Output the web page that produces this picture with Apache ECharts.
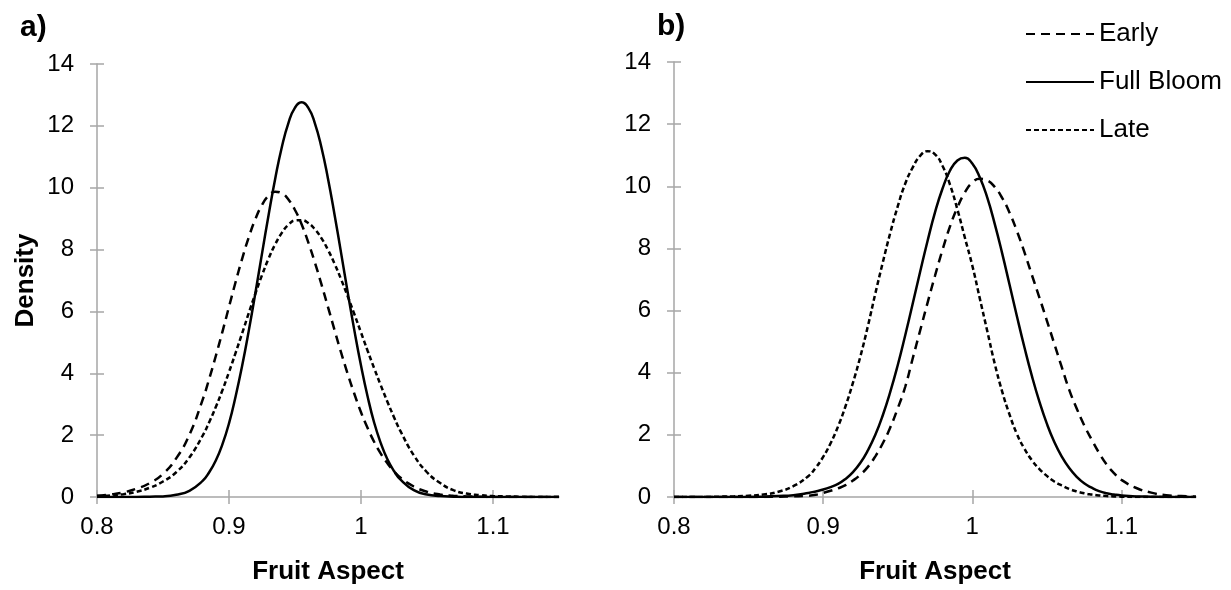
<!DOCTYPE html>
<html>
<head>
<meta charset="utf-8">
<script src="https://cdn.jsdelivr.net/npm/echarts@6/dist/echarts.min.js"></script>
<style>
html,body{margin:0;padding:0;background:#fff;}
#chart{width:1231px;height:590px;}
</style>
</head>
<body>
<div id="chart"></div>
<script>
// ---------- data ----------
const seriesNames = ['Early', 'Full Bloom', 'Late'];
const xTickValues = [0.8, 0.9, 1, 1.1];
const yTickValues = [0, 2, 4, 6, 8, 10, 12, 14];

// panel a) x positions
const xA = [0.80,0.81,0.82,0.83,0.84,0.85,0.86,0.87,0.88,0.885,0.89,0.895,0.90,0.905,0.91,0.915,0.92,0.925,0.93,0.935,0.94,0.945,0.95,0.955,0.96,0.965,0.97,0.975,0.98,0.985,0.99,0.995,1.00,1.005,1.01,1.015,1.02,1.025,1.03,1.04,1.05,1.06,1.07,1.08,1.09,1.10,1.11,1.12,1.13,1.14,1.15];
const earlyA = [0.04,0.08,0.15,0.27,0.45,0.75,1.25,2.01,3.14,3.82,4.56,5.34,6.15,6.95,7.71,8.40,8.99,9.44,9.74,9.87,9.82,9.62,9.28,8.82,8.24,7.59,6.88,6.14,5.39,4.66,3.97,3.33,2.74,2.23,1.78,1.40,1.09,0.83,0.62,0.34,0.17,0.08,0.04,0.02,0.01,0,0,0,0,0,0];
const fullBloomA = [0,0,0,0,0.01,0.02,0.07,0.20,0.52,0.80,1.18,1.70,2.38,3.25,4.25,5.38,6.60,7.87,9.12,10.29,11.31,12.09,12.59,12.76,12.59,12.09,11.31,10.29,9.12,7.87,6.60,5.38,4.25,3.25,2.40,1.74,1.22,0.84,0.56,0.22,0.08,0.03,0.01,0,0,0,0,0,0,0,0];
const lateA = [0.03,0.05,0.09,0.17,0.30,0.50,0.80,1.28,1.98,2.42,2.91,3.45,4.04,4.66,5.30,5.95,6.58,7.17,7.71,8.17,8.54,8.80,8.94,8.95,8.86,8.66,8.37,7.99,7.54,7.03,6.48,5.91,5.32,4.73,4.16,3.61,3.08,2.58,2.12,1.35,0.80,0.45,0.22,0.11,0.06,0.03,0.02,0.01,0,0,0];

// panel b) x positions
const xB = [0.80,0.81,0.82,0.83,0.84,0.85,0.86,0.87,0.88,0.89,0.895,0.90,0.905,0.91,0.915,0.92,0.925,0.93,0.935,0.94,0.945,0.95,0.955,0.96,0.965,0.97,0.975,0.98,0.985,0.99,0.995,1.00,1.005,1.01,1.015,1.02,1.025,1.03,1.035,1.04,1.045,1.05,1.055,1.06,1.065,1.07,1.075,1.08,1.085,1.09,1.095,1.10,1.11,1.12,1.13,1.14,1.15];
const earlyB = [0,0,0,0,0,0,0,0.01,0.02,0.04,0.07,0.13,0.20,0.28,0.38,0.53,0.72,0.97,1.31,1.73,2.24,2.85,3.54,4.45,5.35,6.25,7.12,7.95,8.70,9.32,9.80,10.12,10.24,10.19,9.98,9.63,9.15,8.55,7.87,7.14,6.42,5.68,4.93,4.18,3.45,2.85,2.31,1.85,1.42,1.05,0.77,0.55,0.29,0.14,0.06,0.03,0.01];
const fullBloomB = [0,0,0,0,0,0,0.01,0.03,0.06,0.13,0.18,0.24,0.32,0.42,0.58,0.80,1.10,1.50,2.00,2.63,3.38,4.24,5.20,6.21,7.24,8.24,9.16,9.92,10.50,10.83,10.92,10.73,10.29,9.64,8.80,7.85,6.83,5.80,4.81,3.89,3.07,2.36,1.77,1.30,0.93,0.65,0.44,0.30,0.19,0.12,0.08,0.05,0.02,0.01,0,0,0];
const lateB = [0,0,0,0.01,0.02,0.04,0.08,0.17,0.35,0.67,0.94,1.29,1.73,2.27,2.92,3.68,4.53,5.50,6.55,7.55,8.50,9.35,10.08,10.60,10.98,11.13,11.03,10.66,10.06,9.26,8.35,7.45,6.40,5.35,4.30,3.40,2.65,2.02,1.55,1.18,0.90,0.68,0.50,0.37,0.26,0.18,0.12,0.08,0.05,0.03,0.02,0.01,0,0,0,0,0];

// ---------- chart ----------
const FONT = '"Liberation Sans", Arial, Helvetica, sans-serif';
const AXIS_GRAY = '#a6a6a6';
const dashes = { 'Early': [9, 6], 'Full Bloom': 'solid', 'Late': [5, 3] };

function pairs(xs, ys) { return xs.map((x, i) => [x, ys[i]]); }

function mainX(grid, titleGap) {
  return {
    gridIndex: grid, type: 'value', position: 'bottom', min: 0.8, max: 1.15,
    axisLine: { show: true, onZero: false, lineStyle: { color: AXIS_GRAY, width: 1.5 } },
    axisTick: { show: true, inside: false, length: 7, customValues: xTickValues, lineStyle: { color: AXIS_GRAY, width: 1.5 } },
    axisLabel: { show: true, customValues: xTickValues, margin: 18, fontSize: 24, color: '#000', fontFamily: FONT },
    splitLine: { show: false },
    name: 'Fruit Aspect', nameLocation: 'middle', nameGap: titleGap,
    nameTextStyle: { fontSize: 26, fontWeight: 'bold', color: '#000', fontFamily: FONT }
  };
}
function innerX(grid) {
  return {
    gridIndex: grid, type: 'value', position: 'bottom', offset: 0, min: 0.8, max: 1.15,
    axisLine: { show: false, onZero: false },
    axisTick: { show: true, inside: true, length: 7, customValues: xTickValues, lineStyle: { color: AXIS_GRAY, width: 1.5 } },
    axisLabel: { show: false }, splitLine: { show: false }
  };
}
function mainY(grid, name) {
  return {
    gridIndex: grid, type: 'value', position: 'left', min: 0, max: 14, interval: 2,
    axisLine: { show: true, onZero: false, lineStyle: { color: AXIS_GRAY, width: 1.5 } },
    axisTick: { show: true, inside: false, length: 7, customValues: yTickValues, lineStyle: { color: AXIS_GRAY, width: 1.5 } },
    axisLabel: { show: true, customValues: yTickValues, margin: 23, fontSize: 24, color: '#000', fontFamily: FONT },
    splitLine: { show: false },
    name: name, nameLocation: 'middle', nameGap: 58,
    nameTextStyle: { fontSize: 26, fontWeight: 'bold', color: '#000', fontFamily: FONT }
  };
}
function innerY(grid) {
  return {
    gridIndex: grid, type: 'value', position: 'left', offset: 0, min: 0, max: 14, interval: 2,
    axisLine: { show: false, onZero: false },
    axisTick: { show: true, inside: true, length: 7, customValues: yTickValues, lineStyle: { color: AXIS_GRAY, width: 1.5 } },
    axisLabel: { show: false }, splitLine: { show: false }
  };
}
function lineSeries(name, xs, ys, axisIdx) {
  return {
    type: 'line', name: name, data: pairs(xs, ys),
    xAxisIndex: axisIdx, yAxisIndex: axisIdx,
    smooth: true, showSymbol: false, symbol: 'none', silent: true,
    lineStyle: { color: '#000', width: 2.5, type: dashes[name], cap: 'butt' },
    itemStyle: { color: '#000' },
    z: 3
  };
}

const chart = echarts.init(document.getElementById('chart'), null, { renderer: 'canvas' });
chart.setOption({
  animation: false,
  backgroundColor: '#ffffff',
  grid: [
    { left: 97, top: 64, width: 462, height: 437 },
    { left: 674, top: 62, width: 522, height: 436 }
  ],
  xAxis: [mainX(0, 62), innerX(0), mainX(1, 62), innerX(1)],
  yAxis: [mainY(0, 'Density'), innerY(0), mainY(1, ''), innerY(1)],
  legend: {
    data: seriesNames, orient: 'vertical', left: 1020, top: 16,
    itemWidth: 68, itemHeight: 14, itemGap: 22, selectedMode: false,
    itemStyle: { opacity: 0 },
    textStyle: { fontSize: 26, color: '#000', fontFamily: FONT }
  },
  graphic: [
    { type: 'text', left: 20, top: 13, style: { text: 'a)', font: 'bold 30px ' + FONT, fill: '#000' } },
    { type: 'text', left: 657, top: 12, style: { text: 'b)', font: 'bold 30px ' + FONT, fill: '#000' } }
  ],
  series: [
    lineSeries('Early', xA, earlyA, 0),
    lineSeries('Full Bloom', xA, fullBloomA, 0),
    lineSeries('Late', xA, lateA, 0),
    lineSeries('Early', xB, earlyB, 2),
    lineSeries('Full Bloom', xB, fullBloomB, 2),
    lineSeries('Late', xB, lateB, 2)
  ]
});
</script>
</body>
</html>
